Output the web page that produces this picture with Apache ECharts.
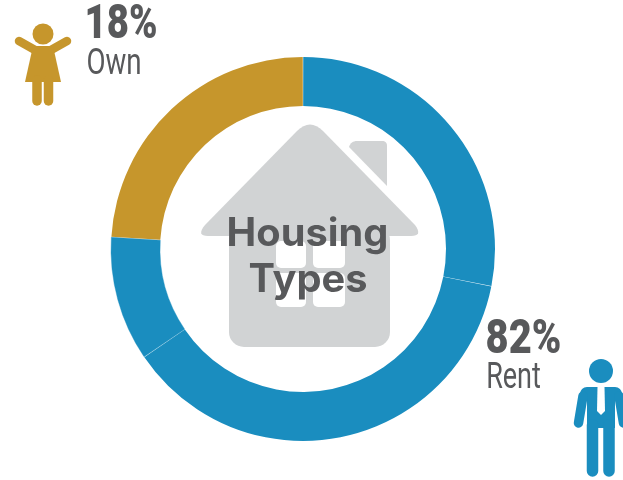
<!DOCTYPE html>
<html><head><meta charset="utf-8">
<style>html,body{margin:0;padding:0;background:#fff}#c{width:623px;height:480px}</style>
<script src="https://cdn.jsdelivr.net/npm/echarts@6/dist/echarts.min.js"></script>
</head><body><div id="c"></div>
<script>
// Ring arcs as drawn in the picture (clockwise from 12 o'clock)
const sliceNames = ['Rent A', 'Rent B', 'Rent C', 'Own'];
const sliceValues = [28.1, 37.4, 10.5, 24.0];
const sliceColors = ['#1a8dbf', '#1a8dbf', '#1a8dbf', '#c6962c'];
const labelOwn = ['18%', 'Own'];
const labelRent = ['82%', 'Rent'];
const centerTitle = ['Housing', 'Types'];

const BLUE = '#1a8dbf', GOLD = '#c6962c', GREY = '#d1d3d4', INK = '#58595b';
const NARROW = 'Roboto,"Liberation Sans",sans-serif';
const WIDE = 'Inter,"Open Sans",sans-serif';

// corner helper for decorative icon outlines: [from, control, to] rounded into a short run of points
const corner = (a, c, b) => {
  const out = [];
  for (let k = 0; k <= 8; k++) {
    const t = k / 8, u = 1 - t;
    out.push([u * u * a[0] + 2 * u * t * c[0] + t * t * b[0], u * u * a[1] + 2 * u * t * c[1] + t * t * b[1]]);
  }
  return out;
};
const poly = (points, fill) => ({ type: 'polygon', shape: { points }, style: { fill } });
const rect = (x, y, width, height, r, fill) => ({ type: 'rect', shape: { x, y, width, height, r }, style: { fill } });
const circ = (cx, cy, r, fill) => ({ type: 'circle', shape: { cx, cy, r }, style: { fill } });
const stroke = (points, color, lw) => ({ type: 'polyline', shape: { points },
  style: { stroke: color, lineWidth: lw, lineCap: 'round', lineJoin: 'round', fill: null } });
const text = (t, x, y, size, weight, family, sx) => ({ type: 'text', x, y, z: 20, scaleX: sx,
  style: { text: t, fill: INK, fontSize: size, fontWeight: weight, fontFamily: family, textAlign: 'center', textVerticalAlign: 'middle' } });

const roofOutline = [
  ...corner([323, 131], [310, 118], [297, 131]),
  ...corner([205, 225], [196, 236], [208, 236]),
  ...corner([411, 236], [423, 236], [415, 225])
];
const chimneyOutline = [
  ...corner([349, 147], [351, 141], [357, 141]),
  ...corner([382, 141], [387, 141], [387, 146]),
  [387, 186]
];

const graphics = [
  // house
  poly(roofOutline, GREY),
  rect(229, 225, 161, 122, 15, GREY),
  poly(chimneyOutline, GREY),
  rect(276, 241, 30, 27, 5, '#fff'), rect(313, 241, 32, 27, 5, '#fff'),
  rect(276, 273, 30, 34, 5, '#fff'), rect(313, 273, 32, 34, 5, '#fff'),
  // woman
  circ(43, 34, 10.5, GOLD),
  stroke([[19, 41], [35, 50]], GOLD, 8.5), stroke([[67, 41], [51, 50]], GOLD, 8.5),
  poly([[33, 46], [53, 46], [61, 82], [25, 82]], GOLD),
  stroke([[37, 80], [37, 101]], GOLD, 9.5), stroke([[48.5, 80], [48.5, 101]], GOLD, 9.5),
  // man
  circ(601, 371, 12, BLUE),
  rect(587, 390, 28, 38, 0, BLUE),
  rect(580, 387, 42, 14, 8, BLUE),
  stroke([[583, 396], [578.5, 423]], BLUE, 9.5), stroke([[619, 396], [623.5, 423]], BLUE, 9.5),
  stroke([[592.5, 425], [592.5, 471]], BLUE, 11.5), stroke([[609, 425], [609, 471]], BLUE, 11.5),
  poly([[597.5, 387], [604.5, 387], [605, 411], [601, 415], [597, 411]], '#fff'),
  // labels
  text(labelOwn[0], 121, 26, 48, 900, NARROW, 0.8),
  text(labelOwn[1], 114, 65, 36, 'normal', NARROW, 0.77),
  text(labelRent[0], 523.5, 340.5, 48, 900, NARROW, 0.83),
  text(labelRent[1], 513.5, 379, 36, 'normal', NARROW, 0.75),
  text(centerTitle[0], 307.5, 234, 39, 'bold', WIDE, 1.02),
  text(centerTitle[1], 308, 280, 39, 'bold', WIDE, 1.02)
];

const chart = echarts.init(document.getElementById('c'), null, { renderer: 'canvas' });
chart.setOption({
  animation: false,
  backgroundColor: '#fff',
  series: [{
    type: 'pie',
    center: [303, 249],
    radius: [143, 192],
    startAngle: 90,
    clockwise: true,
    padAngle: 0.15,
    label: { show: false },
    labelLine: { show: false },
    silent: true,
    data: sliceNames.map((name, i) => ({ name, value: sliceValues[i],
      itemStyle: i === 2 ? { color: sliceColors[i], borderColor: sliceColors[i], borderWidth: 0.4 } : { color: sliceColors[i] } }))
  }],
  graphic: { elements: graphics }
});
</script></body></html>
